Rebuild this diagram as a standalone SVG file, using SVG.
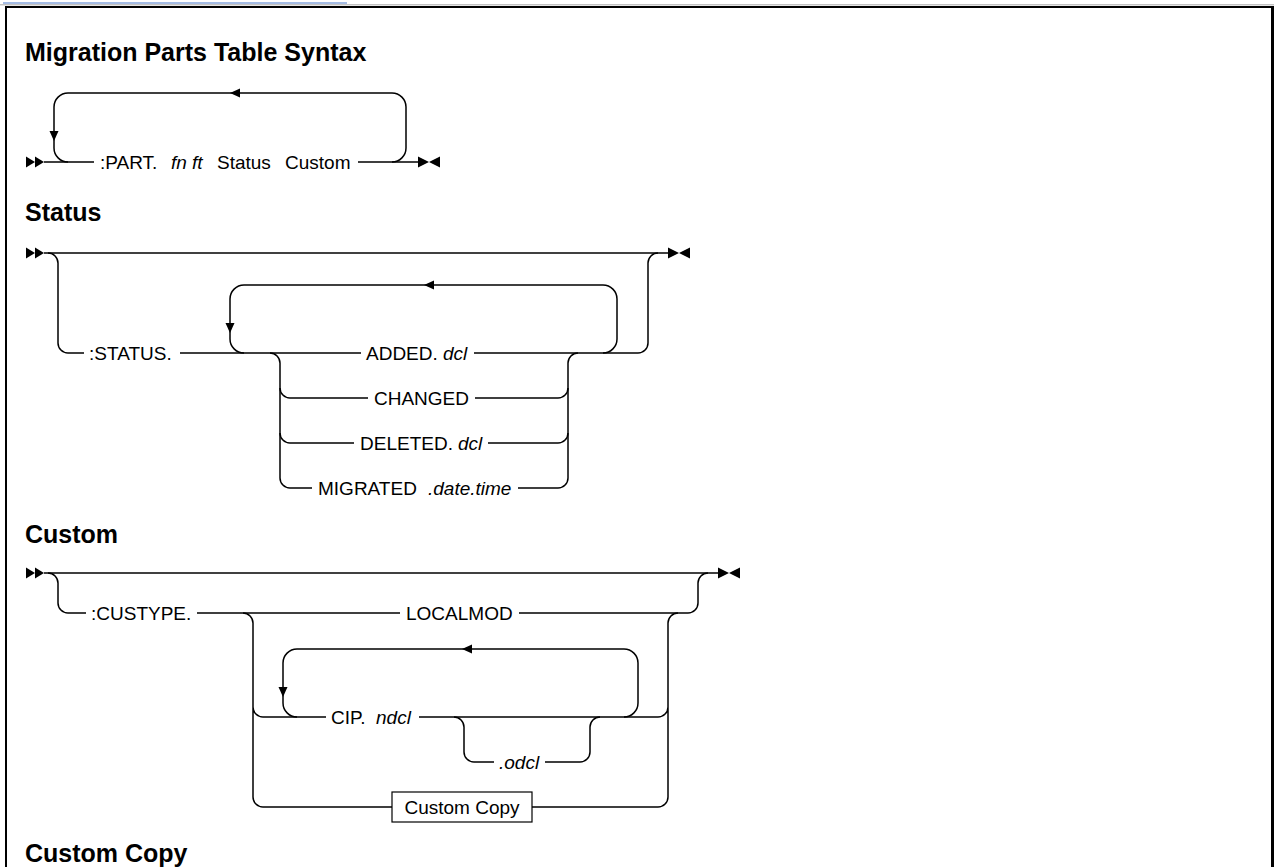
<svg xmlns="http://www.w3.org/2000/svg" width="1274" height="867" viewBox="0 0 1274 867">
<style>
.t{font-family:'Liberation Sans',Arial,sans-serif;font-size:19px;fill:#000}
.i{font-style:italic}
.h{font-family:'Liberation Sans',Arial,sans-serif;font-size:25px;font-weight:bold;fill:#000}
.c{fill:none;stroke:#000;stroke-width:1.5}
.m{fill:#000}
</style>
<defs>
<g id="st"><polygon class="m" points="0,-5.5 9,0 0,5.5"/><polygon class="m" points="9,-5.5 18,0 9,5.5"/></g>
<g id="en"><polygon class="m" points="0,-5.5 11,0 0,5.5"/><polygon class="m" points="22,-5.5 11,0 22,5.5"/></g>
<polygon id="al" class="m" points="0,0 10,-4.5 10,4.5"/>
<polygon id="ad" class="m" points="0,0 -4.5,-10 4.5,-10"/>
</defs>
<rect width="1274" height="867" fill="#fff"/>
<g id="frame">
<line x1="3" y1="3" x2="347" y2="3" stroke="#4a78c8" stroke-width="1.2"/>
<line x1="0" y1="4.8" x2="1274" y2="4.8" stroke="#a8a8a8" stroke-width="1"/>
<line x1="5" y1="7" x2="1274" y2="7" stroke="#000" stroke-width="2"/>
<line x1="6" y1="6" x2="6" y2="867" stroke="#000" stroke-width="2"/>
<line x1="1272.5" y1="6" x2="1272.5" y2="867" stroke="#000" stroke-width="3"/>
</g>
<g id="headings">
<text class="h" x="25" y="61">Migration Parts Table Syntax</text>
<text class="h" x="25" y="221">Status</text>
<text class="h" x="25" y="543">Custom</text>
<text class="h" x="25" y="862">Custom Copy</text>
</g>
<g id="connectors">
<!-- section 1 -->
<path class="c" d="M44,162H94M358,162H418"/>
<path class="c" d="M392,162A14,14 0 0 0 406,148V107A14,14 0 0 0 392,93H68A14,14 0 0 0 54,107V148A14,14 0 0 0 68,162"/>
<use href="#st" x="26" y="162"/>
<use href="#en" x="418" y="162"/>
<use href="#al" x="230" y="93"/>
<use href="#ad" x="54" y="141"/>
<!-- status -->
<path class="c" d="M44,253H668"/>
<path class="c" d="M48,253A10,10 0 0 1 58,263V343A10,10 0 0 0 68,353H84"/>
<path class="c" d="M180,353H361M474,353H638A10,10 0 0 0 648,343V263A10,10 0 0 1 658,253"/>
<path class="c" d="M603,353A14,14 0 0 0 617,339V299A14,14 0 0 0 603,285H244A14,14 0 0 0 230,299V339A14,14 0 0 0 244,353"/>
<path class="c" d="M270,353A10,10 0 0 1 280,363V478A10,10 0 0 0 290,488H312"/>
<path class="c" d="M280,388A10,10 0 0 0 290,398H368M280,433A10,10 0 0 0 290,443H354"/>
<path class="c" d="M578,353A10,10 0 0 0 568,363V478A10,10 0 0 1 558,488H518"/>
<path class="c" d="M475,398H558A10,10 0 0 0 568,388M488,443H558A10,10 0 0 0 568,433"/>
<use href="#st" x="26" y="253"/>
<use href="#en" x="668" y="253"/>
<use href="#al" x="424" y="285"/>
<use href="#ad" x="230" y="333"/>
<!-- custom -->
<path class="c" d="M44,573H718"/>
<path class="c" d="M48,573A10,10 0 0 1 58,583V603A10,10 0 0 0 68,613H86"/>
<path class="c" d="M197,613H400M519,613H688A10,10 0 0 0 698,603V583A10,10 0 0 1 708,573"/>
<path class="c" d="M243,613A10,10 0 0 1 253,623V797A10,10 0 0 0 263,807H392M253,707A10,10 0 0 0 263,717H326"/>
<path class="c" d="M678,613A10,10 0 0 0 668,623V797A10,10 0 0 1 658,807H532M419,717H658A10,10 0 0 0 668,707"/>
<path class="c" d="M624,717A14,14 0 0 0 638,703V663A14,14 0 0 0 624,649H297A14,14 0 0 0 283,663V703A14,14 0 0 0 297,717"/>
<path class="c" d="M454,717A10,10 0 0 1 464,727V752A10,10 0 0 0 474,762H494M545,762H580A10,10 0 0 0 590,752V727A10,10 0 0 1 600,717"/>
<use href="#st" x="26" y="573"/>
<use href="#en" x="718" y="573"/>
<use href="#al" x="462" y="649"/>
<use href="#ad" x="283" y="697"/>
</g>
<g id="n-part"><text class="t" x="100" y="169">:PART.</text><text class="t i" x="171" y="169">fn</text><text class="t i" x="192" y="169">ft</text><text class="t" x="217" y="169">Status</text><text class="t" x="285" y="169">Custom</text></g>
<g id="n-status"><text class="t" x="89" y="360">:STATUS.</text></g>
<g id="n-added"><text class="t" x="366" y="360">ADDED.</text><text class="t i" x="443" y="360">dcl</text></g>
<g id="n-changed"><text class="t" x="374" y="405">CHANGED</text></g>
<g id="n-deleted"><text class="t" x="360" y="450">DELETED.</text><text class="t i" x="458" y="450">dcl</text></g>
<g id="n-migrated"><text class="t" x="318" y="495">MIGRATED</text><text class="t i" x="428" y="495">.date.time</text></g>
<g id="n-custype"><text class="t" x="91" y="620">:CUSTYPE.</text></g>
<g id="n-localmod"><text class="t" x="406" y="620">LOCALMOD</text></g>
<g id="n-cip"><text class="t" x="331" y="724">CIP.</text><text class="t i" x="376" y="724">ndcl</text></g>
<g id="n-odcl"><text class="t i" x="499" y="769">.odcl</text></g>
<g id="n-customcopy"><rect x="392" y="792" width="140" height="30" fill="#fff" stroke="#000" stroke-width="1.2"/><text class="t" x="462" y="814" text-anchor="middle">Custom Copy</text></g>
</svg>
